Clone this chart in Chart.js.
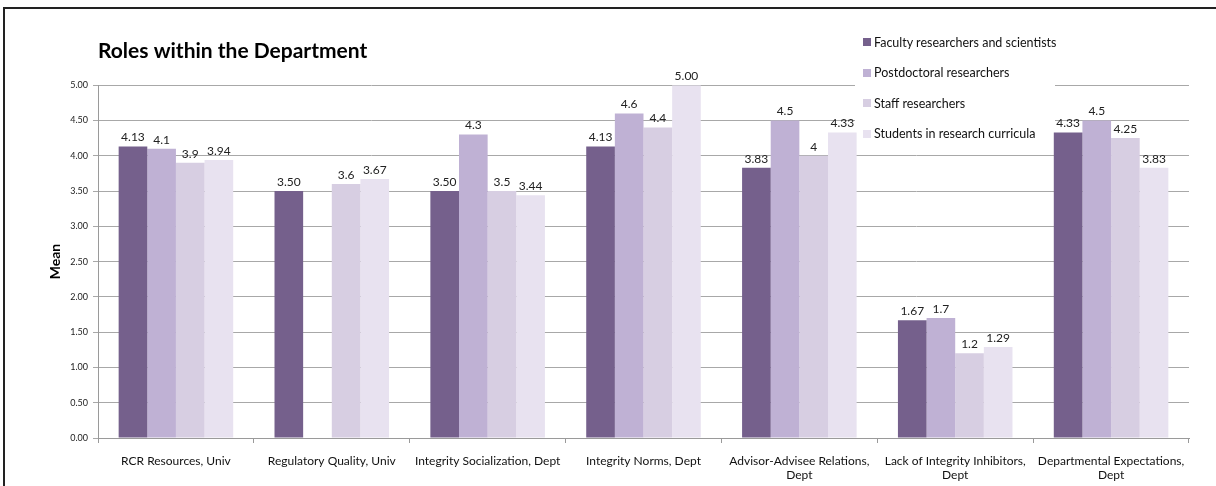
<!DOCTYPE html>
<html lang="en">
<head>
<meta charset="UTF-8">
<title>Roles within the Department</title>
<script src="https://cdn.jsdelivr.net/npm/chart.js"></script>
<style>
    body { margin: 0; background: #fff; }
    #wrap { position: relative; width: 1216px; height: 486px; overflow: hidden; }
    #frame { position: absolute; left: 3px; top: 7px; width: 1230px; height: 500px;
             border-top: 2px solid #222; border-left: 2px solid #222; pointer-events: none; }
    #legend { position: absolute; left: 856px; top: 27px; width: 211px;
              font-family: Lato, sans-serif; font-size: 12.5px; color: #111; }
    .item { height: 30.5px; display: flex; align-items: center; white-space: nowrap; }
    .swatch { width: 8px; height: 8px; margin: 0 3px 0 7px; }
</style>
</head>
<body>
<div id="wrap">
    <canvas id="myChart" width="1216" height="486"></canvas>
    <div id="legend"></div>
    <div id="frame"></div>
</div>
<script>
    const categories = [
        'RCR Resources, Univ',
        'Regulatory Quality, Univ',
        'Integrity Socialization, Dept',
        'Integrity Norms, Dept',
        ['Advisor-Advisee Relations,', 'Dept'],
        ['Lack of Integrity Inhibitors,', 'Dept'],
        ['Departmental Expectations,', 'Dept']
    ];
    const seriesNames = ['Faculty researchers and scientists', 'Postdoctoral researchers', 'Staff researchers', 'Students in research curricula'];
    const faculty  = [4.13, 3.50, 3.50, 4.13, 3.83, 1.67, 4.33];
    const postdoc  = [4.1, null, 4.3, 4.6, 4.5, 1.7, 4.5];
    const staff    = [3.9, 3.6, 3.5, 4.4, 4, 1.2, 4.25];
    const students = [3.94, 3.67, 3.44, 5.00, 4.33, 1.29, 3.83];
    const labelDecimals = [2, null, null, 2];
    const colors = ['#75608c', '#bfb1d4', '#d7cee2', '#e8e2f0'];

    const font = 'Lato, sans-serif';

    // white patch behind the legend, painted before the bars so labels stay on top
    const legendBack = {
        id: 'legendBack',
        beforeDatasetsDraw(chart) {
            const ctx = chart.ctx;
            ctx.save();
            ctx.fillStyle = '#fff';
            ctx.fillRect(855, 27, 200, 100);
            ctx.restore();
        }
    };

    // value labels above each bar
    const barLabels = {
        id: 'barLabels',
        afterDatasetsDraw(chart) {
            const ctx = chart.ctx;
            ctx.save();
            ctx.font = '12px ' + font;
            ctx.fillStyle = '#222';
            ctx.textAlign = 'center';
            ctx.textBaseline = 'bottom';
            chart.data.datasets.forEach((ds, i) => {
                chart.getDatasetMeta(i).data.forEach((bar, j) => {
                    const v = ds.data[j];
                    if (v === null) return;
                    const d = labelDecimals[i];
                    const txt = d === null ? String(v) : v.toFixed(d);
                    ctx.fillText(txt, bar.x, bar.y - 3);
                });
            });
            ctx.restore();
        }
    };

    const data = {
        labels: categories,
        datasets: [faculty, postdoc, staff, students].map((vals, i) => ({
            label: seriesNames[i],
            data: vals,
            backgroundColor: colors[i],
            borderWidth: 0,
            categoryPercentage: 0.735,
            barPercentage: 1
        }))
    };

    const chart = new Chart(document.getElementById('myChart'), {
        type: 'bar',
        data: data,
        plugins: [legendBack, barLabels],
        options: {
            responsive: false,
            animation: false,
            layout: { padding: { top: 31, left: 44, right: 27, bottom: 0 } },
            plugins: {
                legend: { display: false },
                tooltip: { enabled: false },
                title: {
                    display: true,
                    text: 'Roles within the Department',
                    align: 'start',
                    fullSize: false,
                    color: '#000',
                    font: { family: font, size: 21, weight: 'bold' },
                    padding: { top: 8, bottom: 21 }
                }
            },
            scales: {
                x: {
                    afterFit: s => { s.height = 48; },
                    grid: { drawOnChartArea: false, drawTicks: true, tickLength: 5, color: '#9a9a9a' },
                    border: { color: '#9a9a9a' },
                    ticks: { color: '#111', font: { family: font, size: 12 }, padding: 11,
                             maxRotation: 0, autoSkip: false }
                },
                y: {
                    min: 0,
                    max: 5,
                    afterFit: s => { s.width = 54; },
                    grid: { color: '#a8a8a8', tickLength: 5 },
                    border: { color: '#9a9a9a' },
                    ticks: { stepSize: 0.5, color: '#222', padding: 5,
                             font: { family: font, size: 9 },
                             callback: v => v.toFixed(2) },
                    title: { display: true, text: 'Mean', color: '#000',
                             font: { family: font, size: 14, weight: 'bold' }, padding: 3 }
                }
            }
        }
    });

    const legendEl = document.getElementById('legend');
    chart.data.datasets.forEach(ds => {
        const row = document.createElement('div');
        row.className = 'item';
        row.innerHTML = `<span class="swatch" style="background:${ds.backgroundColor}"></span><span>${ds.label}</span>`;
        legendEl.appendChild(row);
    });
</script>
</body>
</html>
